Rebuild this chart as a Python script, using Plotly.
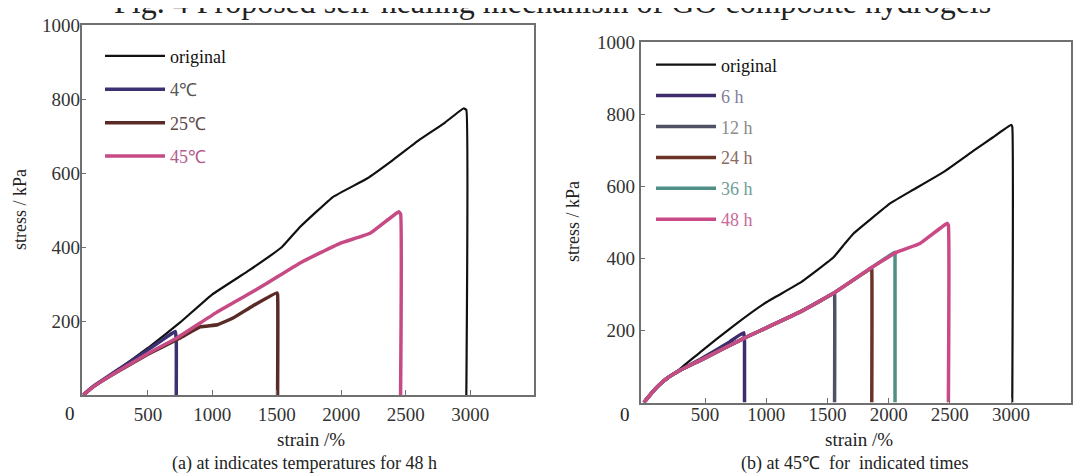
import plotly.graph_objects as go

W, H = 1089, 473
OFF = 8  # page body margin offset compensation (px)
FONT = "Liberation Serif, Times New Roman, serif"


def px(x):
    return (x - OFF) / W


def py(y):
    return 1 - (y - OFF) / H


# ---------------- Panel (a): healing temperature, 48 h ----------------
a_orig_x = [0, 50, 100, 250, 500, 750, 1000, 1290, 1540, 1680, 1935, 2200, 2400, 2600, 2800, 2950, 2970, 2970]
a_orig_y = [0, 16, 29, 64, 127, 196, 272, 338, 400, 454, 535, 585, 635, 688, 735, 775, 770, 0]

a_4_x = [0, 50, 100, 250, 500, 650, 712, 720, 720]
a_4_y = [0, 16, 29, 64, 122, 158, 172, 150, 0]

a_25_x = [0, 50, 100, 250, 500, 750, 905, 1040, 1160, 1310, 1500, 1506, 1506]
a_25_y = [0, 15, 28, 60, 110, 154, 184, 190, 208, 240, 276, 272, 0]

a_45_x = [0, 50, 100, 250, 500, 725, 1036, 1292, 1424, 1680, 1990, 2223, 2445, 2460, 2460]
a_45_y = [0, 15, 28, 61, 112, 154, 224, 275, 302, 357, 410, 437, 495, 490, 0]

# ---------------- Panel (b): 45 degC, healing time ----------------
b_orig_x = [0, 60, 120, 190, 300, 461, 730, 1000, 1281, 1550, 1640, 1713, 2015, 2200, 2447, 2700, 2850, 3000, 3010, 3010]
b_orig_y = [0, 25, 47, 68, 95, 140, 212, 278, 333, 403, 440, 469, 553, 590, 639, 700, 735, 770, 765, 0]

b_6_x = [0, 60, 120, 192, 300, 461, 700, 816, 822, 822]
b_6_y = [0, 25, 47, 68, 90, 120, 168, 194, 165, 0]

b_12_x = [0, 60, 120, 192, 300, 461, 816, 1281, 1555, 1558, 1558]
b_12_y = [0, 25, 47, 68, 90, 117, 178, 252, 303, 300, 0]

b_24_x = [0, 60, 120, 192, 300, 461, 816, 1281, 1562, 1858, 1862, 1862]
b_24_y = [0, 25, 47, 68, 90, 117, 178, 252, 306, 372, 368, 0]

b_36_x = [0, 60, 120, 192, 300, 461, 816, 1281, 1562, 1864, 2050, 2052, 2052]
b_36_y = [0, 25, 47, 68, 90, 117, 178, 252, 306, 375, 417, 412, 0]

b_48_x = [0, 60, 120, 192, 300, 461, 816, 1281, 1562, 1864, 2068, 2256, 2477, 2488, 2488]
b_48_y = [0, 25, 47, 68, 90, 117, 178, 252, 306, 375, 417, 441, 497, 492, 0]

tick_vals_x = [500, 1000, 1500, 2000, 2500, 3000, 3500]
tick_vals_y = [200, 400, 600, 800, 1000]

fig = go.Figure()


def add(x, y, name, color, width, xa, ya, legend, tcolor):
    fig.add_trace(go.Scatter(
        x=x, y=y, mode="lines",
        name=f"<span style='color:{tcolor}'>{name}</span>",
        line=dict(color=color, width=width, shape="spline", smoothing=0.3),
        xaxis=xa, yaxis=ya, legend=legend,
        legendgroup=f"{legend}-{name}",
    ))


add(a_orig_x, a_orig_y, "original", "#111111", 2.2, "x", "y", "legend", "#111111")
add(a_4_x, a_4_y, "4℃", "#3a3270", 3.5, "x", "y", "legend", "#555555")
add(a_25_x, a_25_y, "25℃", "#5a2a26", 3.5, "x", "y", "legend", "#5e4a4a")
add(a_45_x, a_45_y, "45℃", "#c64a84", 3.5, "x", "y", "legend", "#b45a8c")

add(b_orig_x, b_orig_y, "original", "#111111", 2.2, "x2", "y2", "legend2", "#111111")
add(b_6_x, b_6_y, "6 h", "#3e2c6c", 3.5, "x2", "y2", "legend2", "#7f7f9c")
add(b_12_x, b_12_y, "12 h", "#4e5262", 3.5, "x2", "y2", "legend2", "#8a8a8a")
add(b_24_x, b_24_y, "24 h", "#6c3428", 3.5, "x2", "y2", "legend2", "#8d6a62")
add(b_36_x, b_36_y, "36 h", "#4f8f86", 3.5, "x2", "y2", "legend2", "#6e9e96")
add(b_48_x, b_48_y, "48 h", "#c94a84", 3.5, "x2", "y2", "legend2", "#c86a9a")

axis_common = dict(
    showline=True, mirror=True, linecolor="#707070", linewidth=1.5,
    ticks="inside", ticklen=5, tickcolor="#707070", tickwidth=1,
    showgrid=False, zeroline=False, automargin=False,
    tickfont=dict(family=FONT, size=19, color="#333333"),
)

fig.update_layout(
    width=W, height=H,
    margin=dict(l=0, r=0, t=0, b=0, autoexpand=False),
    paper_bgcolor="white", plot_bgcolor="white",
    font=dict(family=FONT, size=18, color="#222222"),
    xaxis=dict(domain=[px(81.5), px(534)], range=[-15, 3495], tickvals=tick_vals_x,
               anchor="y", ticklabelstandoff=1, **axis_common),
    yaxis=dict(domain=[py(395), py(25)], range=[0, 1000], tickvals=tick_vals_y,
               anchor="x", ticklabelstandoff=-4, **axis_common),
    xaxis2=dict(domain=[px(640.5), px(1071)], range=[-28, 3490], tickvals=tick_vals_x,
                anchor="y2", ticklabelstandoff=-6, **axis_common),
    yaxis2=dict(domain=[py(402.5), py(42)], range=[0, 1000], tickvals=tick_vals_y,
                anchor="x2", ticklabelstandoff=0, **axis_common),
    legend=dict(x=px(100), y=py(29.7 + OFF), xanchor="left", yanchor="top",
                bgcolor="rgba(0,0,0,0)", font=dict(family=FONT, size=18),
                traceorder="grouped", tracegroupgap=7, itemwidth=60),
    legend2=dict(x=px(651), y=py(38.5 + OFF), xanchor="left", yanchor="top",
                 bgcolor="rgba(0,0,0,0)", font=dict(family=FONT, size=18),
                 traceorder="grouped", tracegroupgap=4.5, itemwidth=60),
)

ann = [
    dict(text="Fig. 4 Proposed self-healing mechanism of GO composite hydrogels",
         x=552, y=2, size=32),
    dict(text="0", x=70, y=413, size=19),
    dict(text="0", x=625, y=414, size=19),
    dict(text="strain /%", x=311, y=439, size=19),
    dict(text="strain /%", x=859, y=439, size=19),
    dict(text="(a) at indicates temperatures for 48 h", x=304, y=463, size=18),
    dict(text="(b) at 45℃  for  indicated times", x=854, y=463, size=18),
]
for a in ann:
    fig.add_annotation(text=a["text"], x=px(a["x"]), y=py(a["y"]), xref="paper", yref="paper",
                       xanchor="center", yanchor="middle", showarrow=False,
                       font=dict(family=FONT, size=a["size"], color="#222222"))

for xc, yc in [(20, 210), (573, 222)]:
    fig.add_annotation(text="stress / kPa", x=px(xc), y=py(yc), xref="paper", yref="paper",
                       textangle=-90, xanchor="center", yanchor="middle", showarrow=False,
                       font=dict(family=FONT, size=18, color="#222222"))

fig.write_html("out.html")
